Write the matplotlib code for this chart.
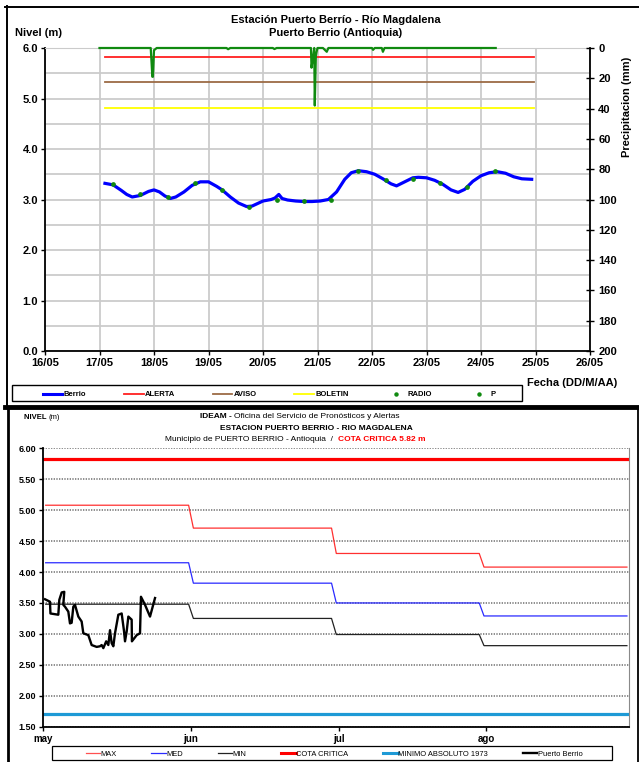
import numpy as np
from matplotlib import pyplot as plt
from matplotlib import patches
from matplotlib.lines import Line2D

plt.rcParams["font.family"] = ["Liberation Sans", "DejaVu Sans"]

W, H = 639, 762

# ---- top chart: Estacion Puerto Berrio (day of May) ----
TOP_DAYS = list(range(16, 27))
TOP_DAY_LABELS = [f"{d}/05" for d in TOP_DAYS]

BERRIO_DAY = [17.10, 17.25, 17.40, 17.50, 17.60, 17.75, 17.90, 18.00, 18.10, 18.20,
              18.30, 18.40, 18.55, 18.70, 18.85, 19.00, 19.15, 19.25, 19.40, 19.55,
              19.70, 19.80, 19.90, 20.00, 20.15, 20.22, 20.29, 20.35, 20.45, 20.60,
              20.75, 20.90, 21.05, 21.20, 21.35, 21.50, 21.62, 21.75, 21.90, 22.05,
              22.20, 22.35, 22.45, 22.60, 22.75, 22.85, 23.00, 23.15, 23.30, 23.45,
              23.58, 23.70, 23.85, 24.00, 24.15, 24.30, 24.45, 24.60, 24.75, 24.93]
BERRIO_LEVEL = [3.32, 3.29, 3.18, 3.10, 3.05, 3.08, 3.16, 3.19, 3.15, 3.07,
                3.02, 3.05, 3.15, 3.28, 3.35, 3.35, 3.26, 3.19, 3.05, 2.93,
                2.86, 2.87, 2.92, 2.97, 3.00, 3.03, 3.10, 3.02, 2.99, 2.97,
                2.96, 2.96, 2.97, 3.00, 3.15, 3.40, 3.53, 3.57, 3.55, 3.50,
                3.41, 3.31, 3.27, 3.35, 3.43, 3.44, 3.43, 3.38, 3.30, 3.19,
                3.14, 3.20, 3.36, 3.47, 3.53, 3.55, 3.52, 3.45, 3.41, 3.40]

RADIO_DAY = [17.25, 17.75, 18.25, 18.75, 19.25, 19.75, 20.25, 20.75,
             21.25, 21.75, 22.25, 22.75, 23.25, 23.75, 24.25]
RADIO_LEVEL = [3.30, 3.10, 3.05, 3.32, 3.19, 2.86, 3.00, 2.97,
               3.00, 3.57, 3.39, 3.40, 3.32, 3.25, 3.56]

THRESHOLD_SPAN = [17.1, 24.97]
ALERTA = 5.82
AVISO = 5.32
BOLETIN = 4.82

P_DAY = [17.00, 17.50, 17.94, 17.97, 17.98, 18.00, 18.05, 18.60, 19.33, 19.36,
         19.40, 20.18, 20.21, 20.25, 20.88, 20.89, 20.91, 20.94, 20.95, 20.97,
         20.98, 21.00, 21.10, 21.17, 21.20, 21.80, 22.00, 22.02, 22.05, 22.18,
         22.20, 22.23, 22.60, 23.20, 23.80, 24.27]
P_MM = [0, 0, 0, 19, 19, 1.5, 0, 0, 0, 0.8,
        0, 0, 0.7, 0, 0, 13, 8, 0, 38, 5,
        3, 0, 0, 2.5, 0, 0, 0, 1.2, 0, 0,
        2.5, 0, 0, 0, 0, 0]

# ---- bottom chart: IDEAM (days since 1 May) ----
MONTH_LABELS = ["may", "jun", "jul", "ago"]
MONTH_TICKS = [0, 31, 62, 93]
MONTH_LENGTH = [31, 30, 31, 31]
MAX_LEVEL = [5.08, 4.71, 4.30, 4.08]
MED_LEVEL = [4.15, 3.82, 3.50, 3.29]
MIN_LEVEL = [3.48, 3.25, 2.99, 2.81]
COTA_CRITICA = 5.82
MINIMO_1973 = 1.71

PB_DAY = [0.36, 1.40, 1.50, 3.15, 3.36, 3.86, 4.40, 4.20, 4.55, 5.25,
          5.60, 5.95, 6.30, 6.65, 7.35, 8.05, 8.40, 9.45, 10.15, 11.20,
          11.90, 12.25, 12.60, 13.20, 13.65, 14.00, 14.35, 14.70, 15.05, 15.75,
          16.45, 16.95, 17.15, 17.50, 17.85, 18.55, 18.60, 19.60, 20.30, 20.50,
          21.35, 22.40, 23.45]
PB_LEVEL = [3.56, 3.52, 3.33, 3.31, 3.55, 3.67, 3.68, 3.47, 3.44, 3.36,
            3.17, 3.18, 3.44, 3.47, 3.28, 3.20, 3.01, 2.98, 2.82, 2.79,
            2.80, 2.82, 2.77, 2.88, 2.82, 3.06, 2.85, 2.80, 3.01, 3.31,
            3.33, 3.04, 2.88, 3.04, 3.28, 3.23, 2.88, 2.98, 3.01, 3.60,
            3.47, 3.28, 3.58]


def fx(px):
    return px / W


def fy(py):
    return 1 - py / H


def bold_ticks(ax):
    for lbl in ax.get_xticklabels() + ax.get_yticklabels():
        lbl.set_fontweight("bold")


def step_series(levels):
    xs, ys = [], []
    start = 0
    for n, v in zip(MONTH_LENGTH, levels):
        xs += [start + 0.5, start + n - 0.5]
        ys += [v, v]
        start += n
    return xs, ys


def legend_box(fig, x0, y0, x1, y1, lw):
    fig.add_artist(patches.Rectangle((fx(x0), fy(y1)), fx(x1 - x0), (y1 - y0) / H,
                                     transform=fig.transFigure, fill=False,
                                     edgecolor="black", lw=lw))


def top_chart(fig):
    ax = fig.add_axes([fx(45), fy(351), fx(545), 303 / H])
    ax.set_xlim(16, 26)
    ax.set_ylim(0, 6)
    ax.set_xticks(TOP_DAYS)
    ax.set_xticklabels(TOP_DAY_LABELS)
    ax.set_yticks(np.arange(0, 6.01, 1))
    ax.set_yticklabels([f"{v:.1f}" for v in np.arange(0, 6.01, 1)])
    ax.set_yticks(np.arange(0.5, 6, 1), minor=True)
    ax.grid(which="both", color="#cbcbcb", lw=1.3)
    ax.set_axisbelow(True)
    ax.tick_params(which="minor", length=0)
    ax.tick_params(which="major", direction="out", length=3, width=1, labelsize=8, pad=2)
    bold_ticks(ax)
    ax.spines["top"].set_color("#cbcbcb")
    ax.spines["right"].set_visible(False)
    for s in ("left", "bottom"):
        ax.spines[s].set_linewidth(1.3)

    ax.plot(THRESHOLD_SPAN, [ALERTA] * 2, color="#ff2020", lw=1.3)
    ax.plot(THRESHOLD_SPAN, [AVISO] * 2, color="#9c6b45", lw=1.3)
    ax.plot(THRESHOLD_SPAN, [BOLETIN] * 2, color="#ffff00", lw=1.3)
    ax.plot(BERRIO_DAY, BERRIO_LEVEL, color="#0000ff", lw=2.3, zorder=3)
    ax.plot(RADIO_DAY, RADIO_LEVEL, ls="none", marker="o", ms=2.4,
            color="#108a10", zorder=4)

    ax2 = ax.twinx()
    ax2.set_ylim(200, 0)
    ax2.set_yticks(range(0, 201, 20))
    ax2.tick_params(direction="inout", length=6, width=1, labelsize=8, pad=3)
    bold_ticks(ax2)
    for s in ("left", "top", "bottom"):
        ax2.spines[s].set_visible(False)
    ax2.spines["right"].set_linewidth(1.3)
    ax2.plot(P_DAY, P_MM, color="#108a10", lw=1.6, clip_on=False, zorder=5)

    fig.text(fx(336), fy(20), "Estación Puerto Berrío - Río Magdalena",
             ha="center", va="center", fontsize=8, fontweight="bold")
    fig.text(fx(336), fy(33), "Puerto Berrio (Antioquia)",
             ha="center", va="center", fontsize=8, fontweight="bold")
    fig.text(fx(15), fy(33), "Nivel (m)", ha="left", va="center",
             fontsize=8, fontweight="bold")
    fig.text(fx(627), fy(107), "Precipitacion (mm)", rotation=90,
             ha="center", va="center", fontsize=8, fontweight="bold")
    fig.text(fx(527), fy(383), "Fecha (DD/M/AA)", ha="left", va="center",
             fontsize=8, fontweight="bold")

    handles = [
        Line2D([], [], color="#0000ff", lw=2.2, label="Berrio"),
        Line2D([], [], color="#ff2020", lw=1.3, label="ALERTA"),
        Line2D([], [], color="#9c6b45", lw=1.3, label="AVISO"),
        Line2D([], [], color="#ffff00", lw=1.3, label="BOLETIN"),
        Line2D([], [], color="#108a10", ls="none", marker="o", ms=2.2, label="RADIO"),
        Line2D([], [], color="#108a10", ls="none", marker="o", ms=2.2, label="P"),
    ]
    fig.legend(handles=handles, loc="lower left",
               bbox_to_anchor=(fx(41), fy(400), fx(456), 14 / H),
               mode="expand", ncol=6, prop={"size": 5.5, "weight": "bold"},
               frameon=False, borderaxespad=0, handlelength=2.6,
               handletextpad=0.15, borderpad=0.2)
    legend_box(fig, 12, 385, 522, 401, 1.0)


def bottom_chart(fig):
    bx = fig.add_axes([fx(43.3), fy(726.7), fx(586), 278.4 / H])
    bx.set_xlim(0, sum(MONTH_LENGTH))
    bx.set_ylim(1.5, 6.0)
    yt = np.arange(1.5, 6.01, 0.5)
    bx.set_yticks(yt)
    bx.set_yticklabels([f"{v:.2f}" for v in yt])
    bx.set_xticks(MONTH_TICKS)
    bx.set_xticklabels(MONTH_LABELS)
    bx.tick_params(axis="y", direction="out", length=3, width=1, labelsize=6.5, pad=2)
    bx.tick_params(axis="x", direction="out", length=3, width=1, labelsize=7, pad=2)
    bold_ticks(bx)
    bx.yaxis.grid(True, color="#7a7a7a", lw=1.2, ls=(0, (0.8, 0.8)))
    bx.set_axisbelow(True)
    bx.spines["top"].set_visible(False)
    bx.spines["right"].set_color("#8a8a8a")
    bx.spines["left"].set_linewidth(1.3)
    bx.spines["bottom"].set_linewidth(1.3)

    end = sum(MONTH_LENGTH) - 0.5
    bx.plot([0, end], [COTA_CRITICA] * 2, color="#ff0000", lw=2.3)
    bx.plot([0, end], [MINIMO_1973] * 2, color="#1e9ad6", lw=2.3)
    xs, ys = step_series(MAX_LEVEL)
    bx.plot(xs, ys, color="#ff3030", lw=0.9)
    xs, ys = step_series(MED_LEVEL)
    bx.plot(xs, ys, color="#2a2aff", lw=0.9)
    xs, ys = step_series(MIN_LEVEL)
    bx.plot(xs, ys, color="#222222", lw=0.9)
    bx.plot(PB_DAY, PB_LEVEL, color="black", lw=1.7)

    # titles
    t = fig.text(fx(200), fy(417), "IDEAM - ", ha="left", va="center",
                 fontsize=6, fontweight="bold")
    plt.annotate("Oficina del Servicio de Pronósticos y Alertas", xy=(1, 0),
                 xycoords=t, va="bottom", ha="left", fontsize=6)
    fig.text(fx(316), fy(428), "ESTACION PUERTO BERRIO - RIO MAGDALENA",
             ha="center", va="center", fontsize=6, fontweight="bold")
    t3 = fig.text(fx(165), fy(439.3), "Municipio de PUERTO BERRIO - Antioquia  /  ",
                  ha="left", va="center", fontsize=6)
    plt.annotate("COTA CRITICA 5.82 m", xy=(1, 0), xycoords=t3, va="bottom",
                 ha="left", fontsize=6, fontweight="bold", color="#ff0000")
    t4 = fig.text(fx(24), fy(418), "NIVEL ", ha="left", va="center",
                  fontsize=5.5, fontweight="bold")
    plt.annotate("(m)", xy=(1, 0), xycoords=t4, va="bottom", ha="left", fontsize=5.5)

    handles = [
        Line2D([], [], color="#ff5050", lw=0.9, label="MAX"),
        Line2D([], [], color="#2a2aff", lw=0.9, label="MED"),
        Line2D([], [], color="#222222", lw=0.9, label="MIN"),
        Line2D([], [], color="#ff0000", lw=2.2, label="COTA CRITICA"),
        Line2D([], [], color="#1e9ad6", lw=2.2, label="MINIMO ABSOLUTO 1973"),
        Line2D([], [], color="black", lw=1.7, label="Puerto Berrio"),
    ]
    fig.legend(handles=handles, loc="lower left",
               bbox_to_anchor=(fx(84), fy(759), fx(500), 13 / H),
               mode="expand", ncol=6, prop={"size": 5.4},
               frameon=False, borderaxespad=0, handlelength=1.9,
               handletextpad=0.1, borderpad=0.2)
    legend_box(fig, 52, 746, 612, 759.5, 0.9)


def frame(fig):
    def line(x, y, lw):
        fig.add_artist(Line2D(x, y, transform=fig.transFigure, color="black", lw=lw))

    line([fx(5), 1], [fy(6.5)] * 2, 1.4)
    line([fx(6.5)] * 2, [fy(5.5), fy(407)], 1.4)
    line([fx(5), 1], [fy(407)] * 2, 3.5)
    line([fx(8)] * 2, [fy(407), 0], 2.0)
    line([fx(637.5)] * 2, [fy(407), 0], 1.3)


def main():
    fig = plt.figure(figsize=(W / 100, H / 100), dpi=100)
    top_chart(fig)
    bottom_chart(fig)
    frame(fig)
    fig.savefig("out.png", dpi=100)


if __name__ == "__main__":
    main()
